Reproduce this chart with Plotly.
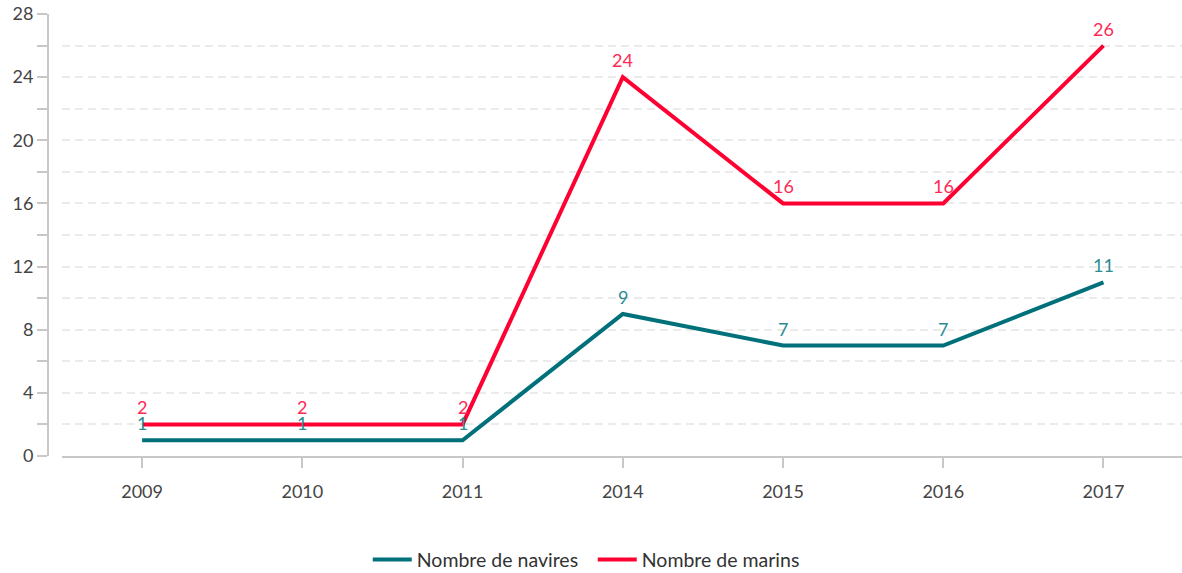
import plotly.graph_objects as go

years = ["2009", "2010", "2011", "2014", "2015", "2016", "2017"]
navires = [1, 1, 1, 9, 7, 7, 11]
marins = [2, 2, 2, 24, 16, 16, 26]
y_ticks = list(range(0, 29, 2))
y_labels = [str(v) if v % 4 == 0 else "" for v in y_ticks]

teal = "#00717a"
red = "#ff0033"
series = [
    ("Nombre de navires", navires, teal, "#2b8c94"),
    ("Nombre de marins", marins, red, "#ff2a55"),
]

fig = go.Figure()
for name, vals, col, tcol in series:
    fig.add_trace(go.Scatter(
        x=years, y=vals, name=name, mode="lines",
        line=dict(color=col, width=4),
    ))
    for i, yv in enumerate(vals):
        fig.add_annotation(
            x=i, y=yv, text=str(yv), showarrow=False,
            xanchor="center", yanchor="middle", yshift=17,
            font=dict(color=tcol, size=18),
        )

# figure is slightly taller than the window so the legend does not push the margins
H = 582
L, R, T, B = 30, 0, 14, H - 456
W = 1182 - L - R
fig.update_layout(
    width=1182, height=H,
    margin=dict(l=L, r=R, t=T, b=B),
    paper_bgcolor="white", plot_bgcolor="white",
    font=dict(family="Lato, 'Open Sans', sans-serif", color="#444", size=18),
    showlegend=True,
    legend=dict(orientation="h", x=0.4885, xanchor="center", y=-0.235, yanchor="middle",
                font=dict(size=19.5, color="#333"), itemwidth=39, tracegroupgap=0,
                entrywidth=171),
    xaxis=dict(
        type="category", domain=[(62 - L) / W, 1], range=[-0.5, 6.49],
        showline=True, linecolor="#c8c8c8", linewidth=2,
        ticks="outside", ticklen=10, tickwidth=2, tickcolor="#c8c8c8",
        showgrid=False, zeroline=False, ticklabelstandoff=8, automargin=False,
        tickfont=dict(size=18, color="#444"),
    ),
    yaxis=dict(
        range=[0, 28], anchor="free", position=(48 - L) / W,
        tickmode="array", tickvals=y_ticks, ticktext=y_labels,
        showline=True, linecolor="#c8c8c8", linewidth=2,
        ticks="outside", ticklen=10, tickwidth=2, tickcolor="#c8c8c8",
        showgrid=True, gridcolor="#ebebeb", gridwidth=2, griddash="8px,5px",
        zeroline=False, automargin=False, ticklabeloverflow="allow",
        tickfont=dict(size=18, color="#444"),
    ),
)

fig.write_html(
    "out.html",
    config={"displayModeBar": False},
    post_script="document.body.style.margin='0';document.body.style.overflow='hidden';",
)
